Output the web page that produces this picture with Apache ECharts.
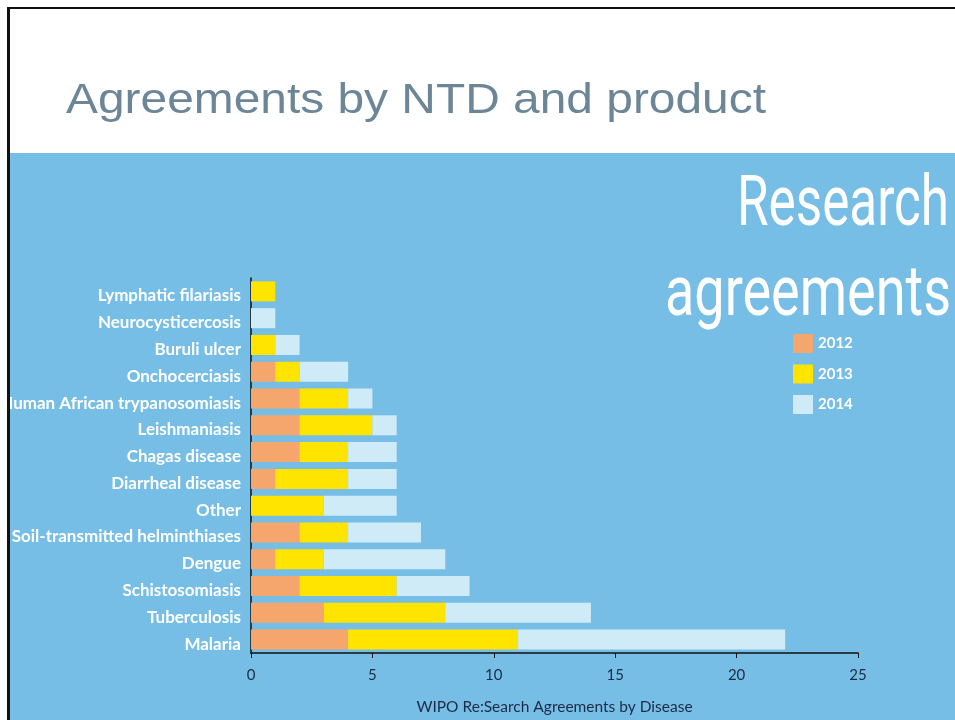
<!DOCTYPE html>
<html>
<head>
<meta charset="utf-8">
<script src="https://cdn.jsdelivr.net/npm/echarts@6/dist/echarts.min.js"></script>
<style>
html,body{margin:0;padding:0;background:#fff;}
#c{width:955px;height:720px;}
</style>
</head>
<body>
<div id="c"></div>
<script>
const categories = ["Lymphatic filariasis","Neurocysticercosis","Buruli ulcer","Onchocerciasis","Human African trypanosomiasis","Leishmaniasis","Chagas disease","Diarrheal disease","Other","Soil-transmitted helminthiases","Dengue","Schistosomiasis","Tuberculosis","Malaria"];
const years = ["2012","2013","2014"];
const v2012 = [0,0,0,1,2,2,2,1,0,2,1,2,3,4];
const v2013 = [1,0,1,1,2,3,2,3,3,2,2,4,5,7];
const v2014 = [0,1,1,2,1,1,2,2,3,3,5,3,6,11];
const xTicks = {min:0, max:25, interval:5};

function measure(text, font){
  const cv = document.createElement('canvas').getContext('2d');
  cv.font = font; return cv.measureText(text).width;
}
const bigFont = '70px Roboto';
const sR = 212 / measure('Research', bigFont);
const sA = 286 / measure('agreements', bigFont);
const titleFont = '43px "Liberation Sans"';
const sT = 700 / measure('Agreements by NTD and product', titleFont);

const chart = echarts.init(document.getElementById('c'), null, {renderer:'canvas'});
const colors = ['#F5A66C','#FFE400','#CFEBF8'];
const seriesVals = [v2012, v2013, v2014];
chart.setOption({
  animation:false,
  backgroundColor:'#ffffff',
  graphic:[
    {type:'rect', z:-10, shape:{x:9,y:153,width:946,height:567}, style:{fill:'#76BEE6'}},
    {type:'text', z:5, x:66, y:101, scaleX:sT, style:{text:'Agreements by NTD and product', font:titleFont, fill:'#6D8697', textVerticalAlign:'middle'}},
    {type:'text', z:5, x:949, y:172, scaleX:sR, style:{text:'Research', font:bigFont, fill:'#ffffff', textAlign:'right', textVerticalAlign:'top'}},
    {type:'text', z:5, x:951, y:262, scaleX:sA, style:{text:'agreements', font:bigFont, fill:'#ffffff', textAlign:'right', textVerticalAlign:'top'}},
    {type:'rect', z:100, shape:{x:7,y:7,width:948,height:2}, style:{fill:'#111'}},
    {type:'rect', z:100, shape:{x:7,y:7,width:3,height:713}, style:{fill:'#111'}}
  ],
  legend:{
    orient:'vertical', left:788, top:329, itemWidth:20, itemHeight:19, itemGap:11.5,
    icon:'rect', data:years, padding:5,
    textStyle:{color:'#fff', fontWeight:'bold', fontSize:15, fontFamily:'Lato'}
  },
  grid:{left:251, right:97, top:278, bottom:67, containLabel:false, outerBoundsMode:'none'},
  xAxis:{
    type:'value', min:xTicks.min, max:xTicks.max, interval:xTicks.interval,
    name:'WIPO Re:Search Agreements by Disease', nameLocation:'middle', nameGap:46,
    nameTextStyle:{color:'#1B2B47', fontSize:15.5, fontFamily:'Lato'},
    axisLine:{show:true, lineStyle:{color:'#111', width:1.5}},
    axisTick:{show:true, length:5, lineStyle:{color:'#111'}},
    splitLine:{show:false},
    axisLabel:{color:'#1B2B47', fontSize:15, fontFamily:'Lato', margin:15}
  },
  yAxis:{
    type:'category', data:categories, inverse:true,
    axisLine:{show:true, lineStyle:{color:'#111', width:1.5}},
    axisTick:{show:false},
    axisLabel:{color:'#fff', fontWeight:'bold', fontSize:17, fontFamily:'Lato', margin:10,
               verticalAlign:'top', lineHeight:9, interval:0}
  },
  series: years.map((y,i)=>({
    name:y, type:'bar', stack:'t', barWidth:20, data:seriesVals[i],
    itemStyle:{color:colors[i]}
  }))
});
</script>
</body>
</html>
